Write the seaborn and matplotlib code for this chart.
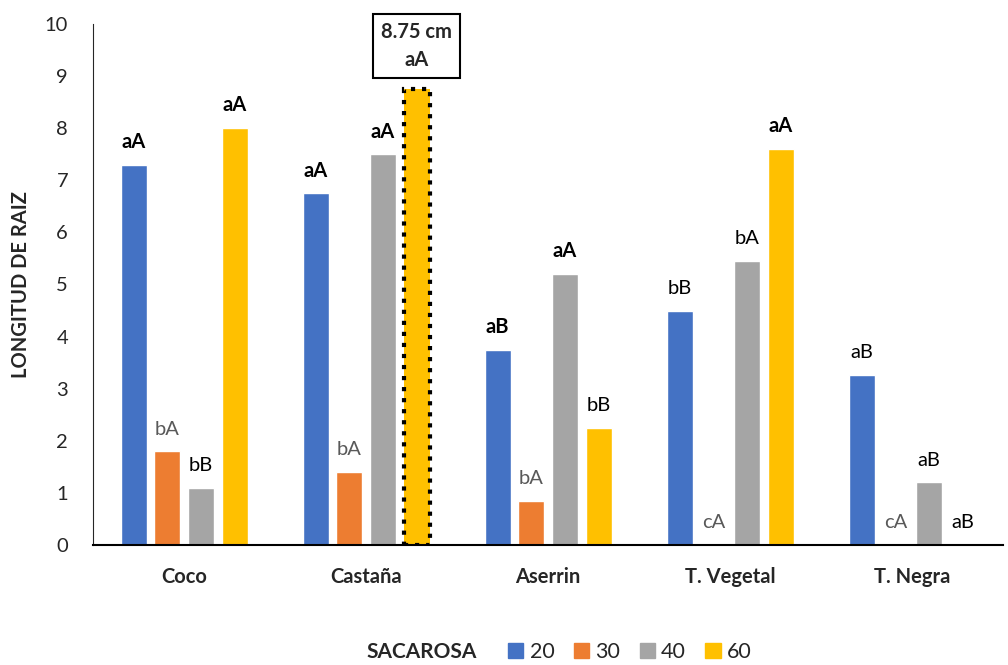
import pandas as pd
import numpy as np
import matplotlib.pyplot as plt
import seaborn as sns

# Data
sustratos = ['Coco', 'Castaña', 'Aserrin', 'T. Vegetal', 'T. Negra']
sacarosa = ['20', '30', '40', '60']
valores_20 = [7.3, 6.75, 3.75, 4.5, 3.27]
valores_30 = [1.8, 1.4, 0.85, 0.0, 0.0]
valores_40 = [1.1, 7.5, 5.2, 5.45, 1.2]
valores_60 = [8.0, 8.75, 2.25, 7.6, 0.0]

# significance letters (per sustrato, per sacarosa level)
letras = [
    ['aA', 'bA', 'bB', 'aA'],
    ['aA', 'bA', 'aA', '8.75 cm\naA'],
    ['aB', 'bA', 'aA', 'bB'],
    ['bB', 'cA', 'bA', 'aA'],
    ['aB', 'cA', 'aB', 'aB'],
]
estilos = [
    ['bold', 'gray', 'normal', 'bold'],
    ['bold', 'gray', 'bold', 'box'],
    ['bold', 'gray', 'bold', 'normal'],
    ['normal', 'gray', 'normal', 'bold'],
    ['normal', 'gray', 'normal', 'normal'],
]

colores = ['#4472C4', '#ED7D31', '#A5A5A5', '#FFC000']

df = pd.DataFrame({
    'Sustrato': sustratos * 4,
    'Sacarosa': [s for s in sacarosa for _ in sustratos],
    'Longitud': valores_20 + valores_30 + valores_40 + valores_60,
})

sns.set_style('white')
plt.rcParams['font.family'] = ['Lato', 'DejaVu Sans']

fig = plt.figure(figsize=(10.08, 6.65), dpi=100)
ax = fig.add_axes([0.0923, 0.1805, 0.903, 0.7835])

sns.barplot(data=df, x='Sustrato', y='Longitud', hue='Sacarosa',
            palette=colores, width=0.74, gap=0.23, ax=ax,
            saturation=1, legend=False)

ax.set_ylim(0, 10)
ax.set_xlim(-0.5, 4.5)
ax.set_yticks(range(0, 11))
ax.tick_params(axis='y', length=0, pad=18, labelsize=14.5)
ax.tick_params(axis='x', length=0, pad=16, labelsize=14.5)
for lab in ax.get_xticklabels():
    lab.set_fontweight('bold')
ax.set_xlabel('')
ax.set_ylabel('LONGITUD DE RAIZ', fontsize=14.5, fontweight='bold', labelpad=10)
sns.despine(ax=ax)
ax.spines['left'].set_color('#262626')
ax.spines['bottom'].set_color('black')
ax.spines['bottom'].set_linewidth(1.5)

# letters above bars
for h in range(4):
    cont = ax.containers[h]
    for i in range(len(sustratos)):
        bar = cont[i]
        xc = bar.get_x() + bar.get_width() / 2
        yt = bar.get_height()
        txt = letras[i][h]
        st = estilos[i][h]
        if st == 'box':
            bar.set_edgecolor('black')
            bar.set_linestyle(':')
            bar.set_linewidth(3)
            ax.annotate(txt, (xc, yt), xytext=(0, 14), textcoords='offset points',
                        ha='center', va='bottom', fontsize=14.5, fontweight='bold',
                        linespacing=1.5, annotation_clip=False,
                        bbox=dict(boxstyle='square,pad=0.4', fc='white',
                                  ec='black', lw=1.5))
            continue
        color = '#595959' if st == 'gray' else 'black'
        weight = 'bold' if st == 'bold' else 'normal'
        ax.annotate(txt, (xc, yt), xytext=(0, 12), textcoords='offset points',
                    ha='center', va='baseline', fontsize=14.5,
                    color=color, fontweight=weight)

# legend at the bottom
handles = [plt.Rectangle((0, 0), 1, 1, color=c) for c in colores]
fig.legend(handles, sacarosa, loc='center', bbox_to_anchor=(0.625, 0.02),
           ncol=4, frameon=False, fontsize=15.5, handlelength=0.7,
           handleheight=0.7, handletextpad=0.3, columnspacing=0.9)
fig.text(0.418, 0.02, 'SACAROSA', ha='center', va='center',
         fontsize=15, fontweight='bold')

fig.savefig('out.png', dpi=100)
